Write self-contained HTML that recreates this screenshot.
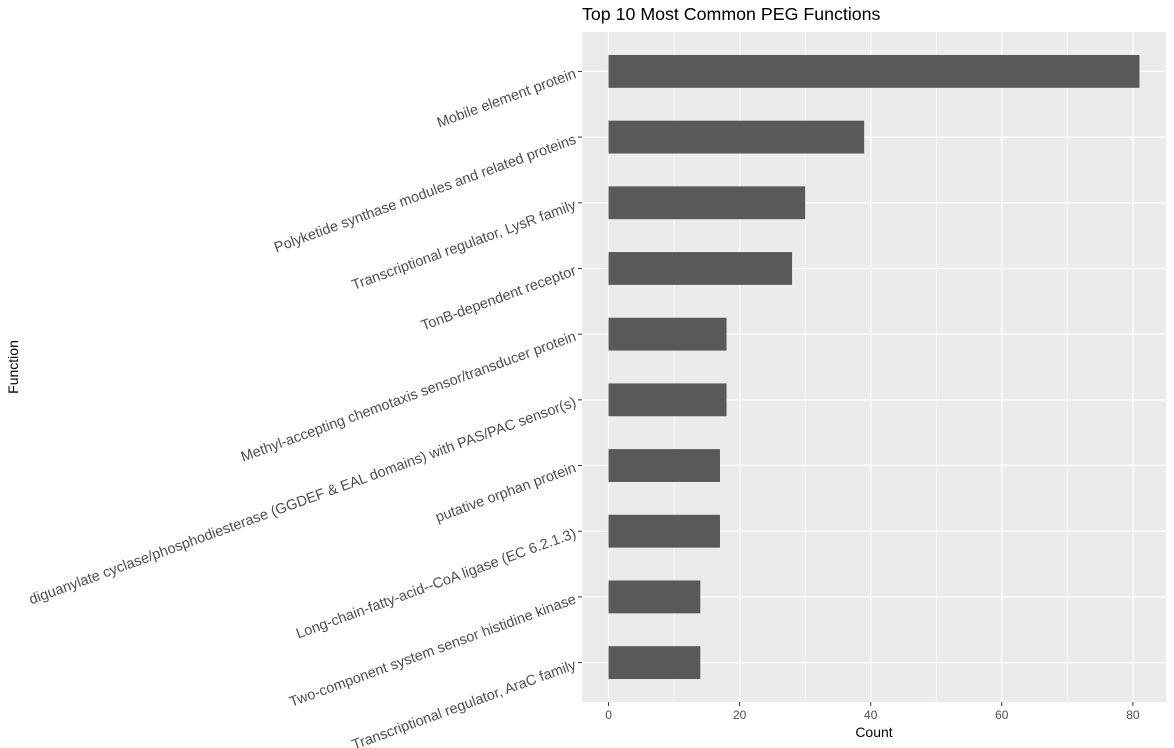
<!DOCTYPE html>
<html><head><meta charset="utf-8"><style>
body{margin:0;background:#fff;}
svg{display:block;font-family:"Liberation Sans",sans-serif;}
</style></head><body>
<svg id="chart" width="1174" height="748">
<rect x="0" y="0" width="1174" height="748" fill="#fff"/>
<text x="582" y="20" font-size="17.8" fill="#000">Top 10 Most Common PEG Functions</text>
<rect id="panel" x="582" y="32" width="584" height="670" fill="#ebebeb"/>
<g id="grid"></g>
<g id="bars"></g>
<g id="yaxis"></g>
<g id="xaxis"></g>
<text x="874" y="737" font-size="14" text-anchor="middle" fill="#000">Count</text>
<text transform="translate(18,367) rotate(-90)" font-size="14" text-anchor="middle" fill="#000">Function</text>
</svg>
<script>
const categories = ["Mobile element protein","Polyketide synthase modules and related proteins","Transcriptional regulator, LysR family","TonB-dependent receptor","Methyl-accepting chemotaxis sensor/transducer protein","diguanylate cyclase/phosphodiesterase (GGDEF & EAL domains) with PAS/PAC sensor(s)","putative orphan protein","Long-chain-fatty-acid--CoA ligase (EC 6.2.1.3)","Two-component system sensor histidine kinase","Transcriptional regulator, AraC family"];
const counts = [81,39,30,28,18,18,17,17,14,14];
const xTicks = [0,20,40,60,80];
const xMinor = [10,30,50,70];

const NS="http://www.w3.org/2000/svg";
const px0=582,pw=584,py0=32,ph=670;
const xmin=-4.05,xmax=85.05;
const x=v=>px0+(v-xmin)/(xmax-xmin)*pw;
const step=ph/(categories.length+0.2);
const y=i=>py0+(0.6+i)*step;
function mk(t,a,p){const e=document.createElementNS(NS,t);for(const k in a)e.setAttribute(k,a[k]);p.appendChild(e);return e;}
const grid=document.getElementById('grid'),bars=document.getElementById('bars'),ya=document.getElementById('yaxis'),xa=document.getElementById('xaxis');
xMinor.forEach(v=>{const l=mk('line',{x1:x(v),x2:x(v),y1:py0,y2:py0+ph,stroke:'#fff','stroke-width':0.6},grid);

});
xTicks.forEach(v=>{const l=mk('line',{x1:x(v),x2:x(v),y1:py0,y2:py0+ph,stroke:'#fff','stroke-width':1.3},grid);


const t=mk('line',{x1:x(v),x2:x(v),y1:py0+ph,y2:py0+ph+4,stroke:'#333','stroke-width':1},xa);


const tx=mk('text',{x:x(v),y:py0+ph+17,'font-size':12,'text-anchor':'middle',fill:'#4d4d4d'},xa);
tx.textContent=v;

});
categories.forEach((c,i)=>{const yc=y(i);
const g=mk('line',{x1:px0,x2:px0+pw,y1:yc,y2:yc,stroke:'#fff','stroke-width':1.3},grid);


const b=mk('rect',{x:x(0),y:yc-step*0.25,width:x(counts[i])-x(0),height:step*0.5,fill:'#595959'},bars);


const t=mk('line',{x1:px0-4,x2:px0,y1:yc,y2:yc,stroke:'#333','stroke-width':1},ya);


const tx=mk('text',{x:0,y:0,'font-size':14.5,'text-anchor':'end',fill:'#4d4d4d',transform:`translate(${px0-5},${yc+6}) rotate(-20)`},ya);
tx.textContent=c;

});
</script>
</body></html>
